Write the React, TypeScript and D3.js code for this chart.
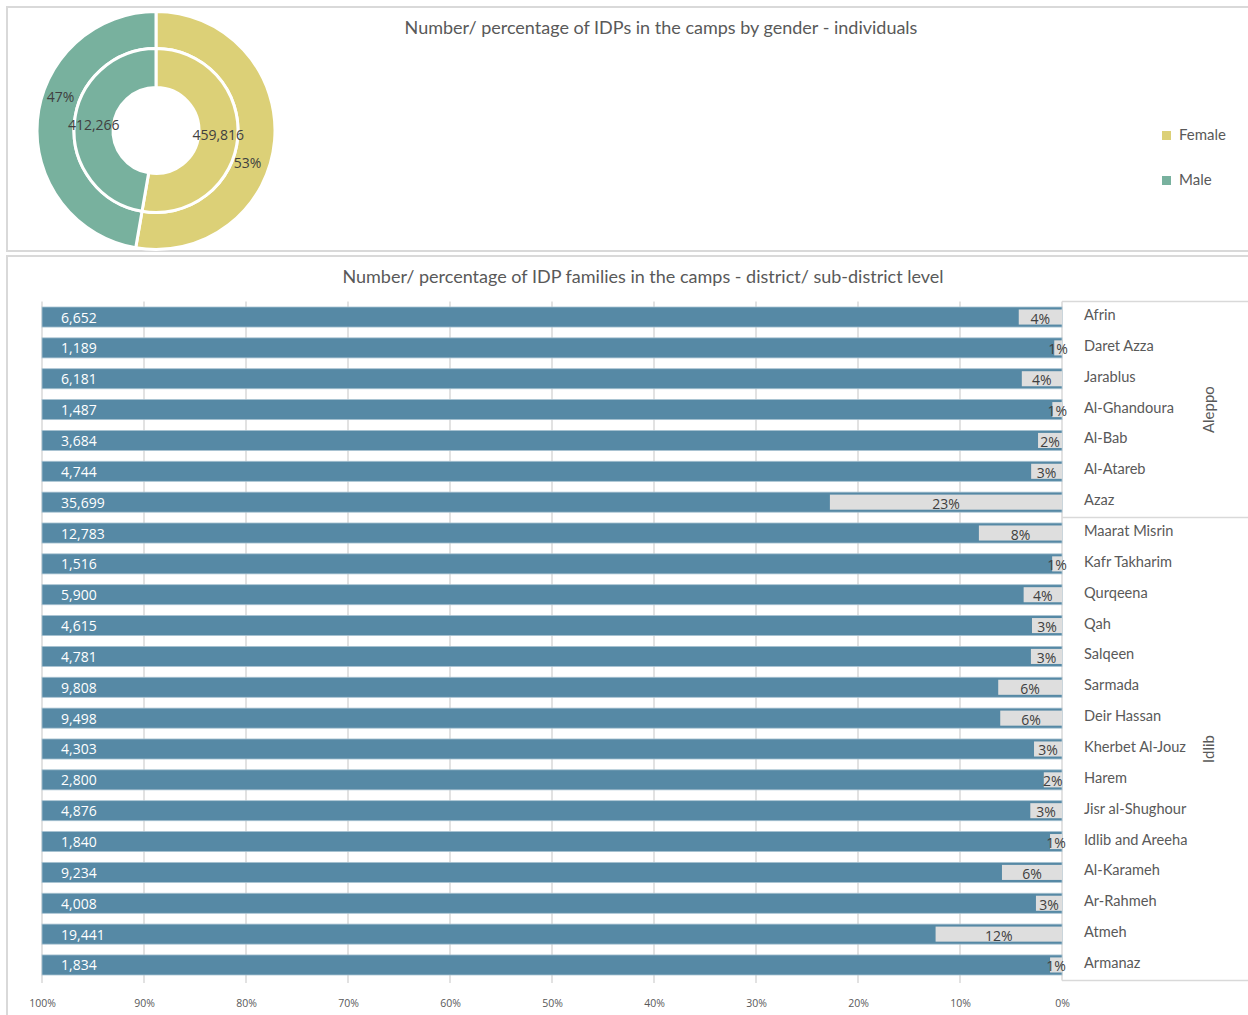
import { useEffect, useRef } from 'react';
import * as d3 from 'd3';

// Gender split (individuals)
const genderLabels = ['Female', 'Male'];
const genderValues = [459816, 412266];
const genderColors = ['#DCD077', '#78B19E'];

// Families per sub-district
const subDistricts = [
    'Afrin', 'Daret Azza', 'Jarablus', 'Al-Ghandoura', 'Al-Bab', 'Al-Atareb', 'Azaz',
    'Maarat Misrin', 'Kafr Takharim', 'Qurqeena', 'Qah', 'Salqeen', 'Sarmada', 'Deir Hassan',
    'Kherbet Al-Jouz', 'Harem', 'Jisr al-Shughour', 'Idlib and Areeha', 'Al-Karameh',
    'Ar-Rahmeh', 'Atmeh', 'Armanaz',
];
const families = [
    6652, 1189, 6181, 1487, 3684, 4744, 35699,
    12783, 1516, 5900, 4615, 4781, 9808, 9498,
    4303, 2800, 4876, 1840, 9234, 4008, 19441, 1834,
];
const governorates = ['Aleppo', 'Idlib'];
const governorateCounts = [7, 15];
const xTicks = [1, 0.9, 0.8, 0.7, 0.6, 0.5, 0.4, 0.3, 0.2, 0.1, 0];

const W = 1248;
const H = 1015;
const titleFont = 'Lato, "Open Sans", sans-serif';
const dataFont = '"Open Sans", "Noto Sans", sans-serif';

export default function App() {
    const ref = useRef<SVGSVGElement>(null);

    useEffect(() => {
        if (!ref.current) return;
        const svg = d3.select(ref.current);
        svg.selectAll('*').remove();

        // Panels
        svg.append('rect').attr('x', 7).attr('y', 7).attr('width', 1260).attr('height', 244)
            .attr('fill', 'white').attr('stroke', '#d9d9d9').attr('stroke-width', 2);
        svg.append('rect').attr('x', 7).attr('y', 256).attr('width', 1260).attr('height', 800)
            .attr('fill', 'white').attr('stroke', '#d9d9d9').attr('stroke-width', 2);

        // ---------- Donut ----------
        svg.append('text')
            .attr('x', 661).attr('y', 34)
            .attr('text-anchor', 'middle')
            .attr('font-family', titleFont).attr('font-size', 18).attr('fill', '#595959')
            .text('Number/ percentage of IDPs in the camps by gender - individuals');

        const cx = 156, cy = 130.5;
        const g = svg.append('g').attr('transform', `translate(${cx},${cy})`);
        const pie = d3.pie<number>().sort(null);
        const slices = pie(genderValues);
        const total = d3.sum(genderValues);

        const outerArc = d3.arc<any>().innerRadius(82).outerRadius(119);
        const innerArc = d3.arc<any>().innerRadius(43).outerRadius(82);

        slices.forEach((s, i) => {
            g.append('path').attr('d', outerArc(s) as string)
                .attr('fill', genderColors[i]).attr('stroke', 'white').attr('stroke-width', 3);
            g.append('path').attr('d', innerArc(s) as string)
                .attr('fill', genderColors[i]).attr('stroke', 'white').attr('stroke-width', 3);
        });

        slices.forEach((s) => {
            const [ix, iy] = innerArc.centroid(s);
            g.append('text').attr('x', ix).attr('y', iy - 1)
                .attr('text-anchor', 'middle').attr('dominant-baseline', 'central')
                .attr('font-family', dataFont).attr('font-size', 14).attr('fill', '#404040')
                .text(d3.format(',')(s.data));
            // outer percentage label, nudged clockwise like the original
            const a = (s.startAngle + s.endAngle) / 2 + 0.25;
            const r = 99;
            g.append('text').attr('x', r * Math.sin(a) - 2).attr('y', -r * Math.cos(a) - 1)
                .attr('text-anchor', 'middle').attr('dominant-baseline', 'central')
                .attr('font-family', dataFont).attr('font-size', 14).attr('fill', '#404040')
                .text(d3.format('.0%')(s.data / total));
        });

        // Legend
        genderLabels.forEach((lab, i) => {
            const ly = 134 + i * 45;
            svg.append('rect').attr('x', 1162).attr('y', ly - 3).attr('width', 9).attr('height', 9)
                .attr('fill', genderColors[i]);
            svg.append('text').attr('x', 1179).attr('y', ly).attr('dominant-baseline', 'central')
                .attr('font-family', titleFont).attr('font-size', 15).attr('fill', '#595959')
                .text(lab);
        });

        // ---------- Bars ----------
        svg.append('text')
            .attr('x', 643).attr('y', 283)
            .attr('text-anchor', 'middle')
            .attr('font-family', titleFont).attr('font-size', 18).attr('fill', '#595959')
            .text('Number/ percentage of IDP families in the camps - district/ sub-district level');

        const famTotal = d3.sum(families);
        const x = d3.scaleLinear().domain([1, 0]).range([42, 1062]);
        const y = d3.scaleBand<string>().domain(subDistricts).range([301.6, 980.4])
            .paddingInner(0.35).paddingOuter(0.175);

        // gridlines
        svg.append('g').selectAll('line').data(xTicks.slice(0, -1)).join('line')
            .attr('x1', d => x(d)).attr('x2', d => x(d))
            .attr('y1', 301.6).attr('y2', 983)
            .attr('stroke', '#d9d9d9').attr('stroke-width', 1.5);

        // category table frame (under the labels)
        const tbl = svg.append('g');
        tbl.append('line').attr('x1', x(0)).attr('x2', x(0)).attr('y1', 301.6).attr('y2', 980.4)
            .attr('stroke', '#d9d9d9').attr('stroke-width', 1.5);

        const rows = svg.append('g').selectAll('g').data(subDistricts).join('g');
        rows.append('rect')
            .attr('x', x(1)).attr('y', d => y(d)!)
            .attr('width', x(0) - x(1)).attr('height', y.bandwidth())
            .attr('fill', '#5689A5').attr('stroke', '#a9c3d2').attr('stroke-width', 0.8);
        rows.append('rect')
            .attr('x', (_, i) => x(families[i] / famTotal))
            .attr('y', d => y(d)! + 2.5)
            .attr('width', (_, i) => x(0) - x(families[i] / famTotal))
            .attr('height', y.bandwidth() - 5)
            .attr('fill', '#DEDEDE');
        rows.append('text')
            .attr('x', x(1) + 19).attr('y', d => y(d)! + y.bandwidth() / 2)
            .attr('dominant-baseline', 'central')
            .attr('font-family', dataFont).attr('font-size', 14).attr('fill', 'white')
            .text((_, i) => d3.format(',')(families[i]));
        rows.append('text')
            .attr('x', (_, i) => (x(families[i] / famTotal) + x(0)) / 2)
            .attr('y', d => y(d)! + y.bandwidth() / 2 + 1)
            .attr('text-anchor', 'middle').attr('dominant-baseline', 'central')
            .attr('font-family', dataFont).attr('font-size', 14).attr('fill', '#404040')
            .text((_, i) => d3.format('.0%')(families[i] / famTotal));

        // x axis
        const axis = svg.append('g').attr('transform', 'translate(0,1000)')
            .call(d3.axisBottom(x).tickValues(xTicks).tickFormat(d3.format('.0%') as any).tickSize(0));
        axis.select('.domain').remove();
        axis.selectAll('text').attr('dy', 0).attr('dominant-baseline', 'central')
            .attr('font-family', dataFont).attr('font-size', 10.5).attr('fill', '#595959');

        let start = 0;
        governorates.forEach((gov, gi) => {
            const first = subDistricts[start];
            const last = subDistricts[start + governorateCounts[gi] - 1];
            const top = y(first)! - y.step() * y.paddingInner() / 2;
            const bottom = y(last)! + y.bandwidth() + y.step() * y.paddingInner() / 2;
            tbl.append('line').attr('x1', x(0)).attr('x2', W).attr('y1', top).attr('y2', top)
                .attr('stroke', '#d9d9d9').attr('stroke-width', 1.5);
            if (gi === governorates.length - 1) {
                tbl.append('line').attr('x1', x(0)).attr('x2', W).attr('y1', bottom).attr('y2', bottom)
                    .attr('stroke', '#d9d9d9').attr('stroke-width', 1.5);
            }
            const mid = (top + bottom) / 2;
            tbl.append('text')
                .attr('transform', `translate(1208,${mid}) rotate(-90)`)
                .attr('text-anchor', 'middle').attr('dominant-baseline', 'central')
                .attr('font-family', titleFont).attr('font-size', 15).attr('fill', '#595959')
                .text(gov);
            start += governorateCounts[gi];
        });
        tbl.selectAll('text.cat').data(subDistricts).join('text')
            .attr('class', 'cat')
            .attr('x', 1084).attr('y', d => y(d)! + y.bandwidth() / 2 - 2.5)
            .attr('dominant-baseline', 'central')
            .attr('font-family', titleFont).attr('font-size', 14.6).attr('fill', '#595959')
            .text(d => d);
    }, []);

    return (
        <svg
            ref={ref}
            width={W}
            height={H}
            style={{ position: 'absolute', left: 0, top: 0, background: 'white' }}
        />
    );
}
